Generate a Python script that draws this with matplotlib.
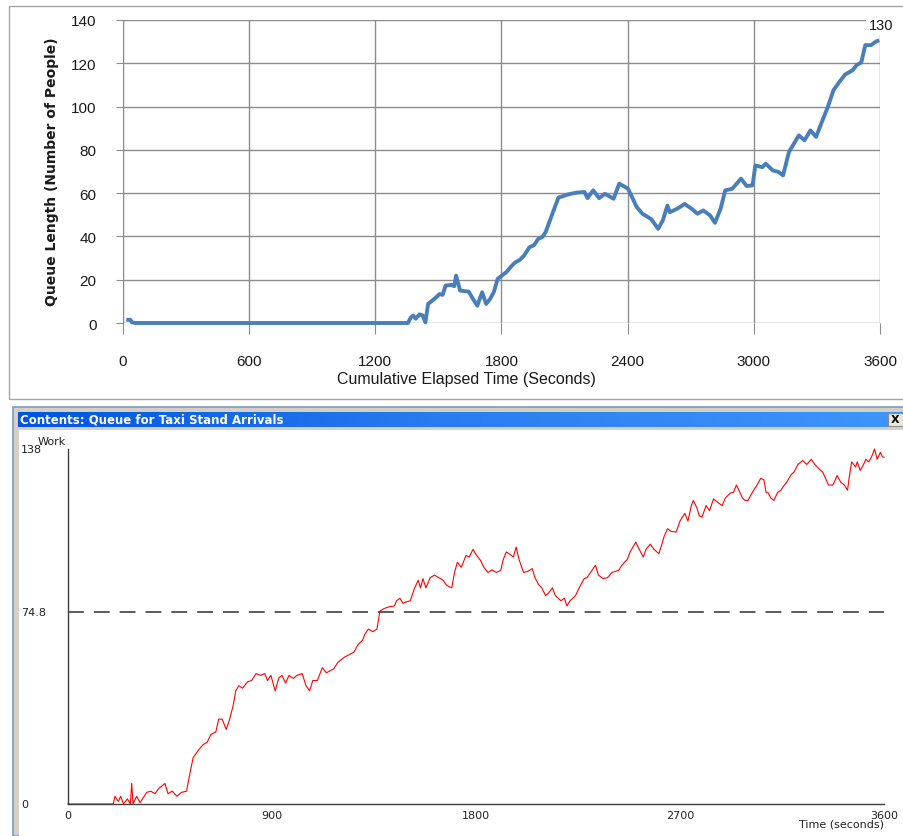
import matplotlib
matplotlib.use("Agg")
import matplotlib.pyplot as plt
import numpy as np
from matplotlib.patches import Rectangle
from matplotlib.colors import LinearSegmentedColormap
from matplotlib.transforms import blended_transform_factory

# ---- top chart data (Excel style) ----
top_t = [25, 35, 42, 60, 1355, 1369, 1380, 1392, 1410, 1425, 1438, 1451, 1479, 1506, 1520,
         1534, 1562, 1575, 1584, 1603, 1644, 1665, 1685, 1708, 1727, 1745, 1763, 1782, 1823,
         1845, 1865, 1885, 1906, 1933, 1955, 1975, 1994, 2010, 2044, 2071, 2090, 2112, 2154,
         2195, 2209, 2236, 2264, 2292, 2333, 2360, 2402, 2443, 2470, 2512, 2545, 2567, 2589,
         2600, 2636, 2671, 2704, 2732, 2760, 2792, 2815, 2842, 2864, 2897, 2939, 2966, 2994,
         3007, 3040, 3057, 3090, 3117, 3139, 3167, 3186, 3214, 3241, 3269, 3296, 3324, 3352,
         3379, 3407, 3434, 3470, 3489, 3511, 3530, 3558, 3580, 3588]
top_v = [1.5, 1.5, 0.3, 0, 0, 2.6, 3.4, 2, 4, 3.5, 0.3, 8.8, 11, 13.4, 13,
         17.3, 17.6, 17, 21.9, 15, 14.5, 11, 8, 14.2, 8.8, 11, 14.2, 20.4, 23.5,
         26, 28, 29, 31, 35, 36, 38.9, 39.7, 42, 51, 58, 58.5, 59.3, 60.2,
         60.5, 57.7, 61.3, 57.7, 59.7, 57.4, 64.4, 62, 53.6, 50.5, 48, 43.5, 47.4, 54.3,
         51.2, 52.8, 55, 52.8, 50.5, 52, 49.7, 46.3, 52.8, 61.3, 62, 66.7, 63.3, 63.6,
         72.8, 72, 73.6, 70.5, 69.8, 68.2, 79, 82.1, 86.7, 84.4, 89, 86, 93, 99.9,
         107.6, 111.4, 114.8, 116.8, 119.2, 120.4, 128.4, 128.4, 130, 130.3]
top_xticks = [0, 600, 1200, 1800, 2400, 3000, 3600]
top_yticks = [0, 20, 40, 60, 80, 100, 120, 140]
top_last_label = "130"

# ---- bottom chart data (simulation window) ----
bot_t = [0, 200, 207, 222, 232, 245, 262, 275, 281, 287, 303, 318, 347, 365, 384, 400, 428,
         441, 460, 480, 501, 523, 538, 552, 576, 595, 614, 630, 652, 665, 680, 698, 710, 728,
         740, 754, 770, 792, 810, 830, 850, 868, 880, 895, 914, 930, 944, 960, 975, 995, 1010,
         1033, 1050, 1066, 1080, 1100, 1122, 1140, 1173, 1190, 1218, 1240, 1261, 1280, 1299,
         1310, 1325, 1345, 1363, 1376, 1395, 1414, 1440, 1450, 1464, 1478, 1490, 1510, 1528,
         1545, 1555, 1566, 1579, 1598, 1617, 1635, 1655, 1670, 1693, 1705, 1718, 1735, 1756,
         1770, 1787, 1800, 1820, 1835, 1853, 1870, 1890, 1909, 1920, 1934, 1950, 1965, 1977,
         1990, 2010, 2030, 2048, 2060, 2074, 2090, 2107, 2120, 2137, 2150, 2175, 2190, 2201,
         2215, 2239, 2255, 2277, 2290, 2305, 2327, 2340, 2360, 2380, 2400, 2429, 2445, 2467,
         2480, 2505, 2520, 2538, 2550, 2569, 2585, 2607, 2620, 2630, 2645, 2660, 2683, 2700,
         2721, 2735, 2750, 2759, 2775, 2785, 2797, 2815, 2830, 2848, 2870, 2886, 2900, 2924,
         2935, 2949, 2960, 2975, 2987, 3000, 3012, 3025, 3040, 3056, 3070, 3080, 3089, 3100,
         3114, 3130, 3145, 3152, 3170, 3190, 3203, 3220, 3241, 3260, 3279, 3295, 3317, 3330,
         3345, 3355, 3375, 3393, 3410, 3425, 3439, 3445, 3457, 3475, 3482, 3495, 3510, 3520,
         3533, 3545, 3550, 3558, 3570, 3584, 3593, 3600]
bot_v = [0, 0, 3, 1, 3, 0, 2, 0, 8, 0, 3, 0.5, 4.5, 5, 4, 6, 8,
         4, 5, 3, 4.5, 5, 12, 18, 21, 23, 24, 27, 28, 33, 33, 29, 32, 38,
         44, 46, 45, 47.5, 48, 50.7, 50, 50.7, 48, 50, 44, 49, 50, 47, 50, 48.8, 50,
         50.7, 46, 44, 48, 48, 53, 51, 52.6, 55, 57, 58, 59, 62, 63.6,
         66, 68, 67, 68, 75, 76, 76.6, 77, 79, 80, 78, 78.5, 79, 83.7,
         87, 84, 87.6, 84, 88, 89, 88, 87, 85, 84, 90, 94, 92, 96.6,
         96, 99, 97, 94.7, 92, 90, 91, 90, 90.8, 95, 98, 97, 96, 99.9,
         95, 90, 90.5, 91.5, 88, 85.6, 84, 81, 82, 84, 81, 79, 80, 77,
         79, 81, 84, 87.6, 88, 90, 92.8, 89, 87.6, 88, 90, 90.8, 93, 95,
         98, 101.8, 99, 96, 99, 101, 99, 97.3, 101, 104, 107, 106, 105.7, 110,
         113, 110, 116, 118, 115, 112, 111.5, 116, 114, 118.6, 117, 116, 119, 121,
         121, 124, 122, 119, 118, 118, 120, 122, 124, 126.6, 126, 121, 121, 119,
         118, 121, 122, 123, 125, 128, 129, 132, 133.5, 132, 134, 132, 130, 129,
         126, 124, 124, 127.7, 125, 124, 122, 126, 133, 131, 133, 129.6, 132, 134,
         133, 135, 136, 138, 134, 136.7, 135, 134.8]
bot_xticks = [0, 900, 1800, 2700, 3600]
bot_ymax = 138
bot_mean = 74.8
window_title = "Contents: Queue for Taxi Stand Arrivals"

W, H = 904, 837
fig = plt.figure(figsize=(W / 100, H / 100), dpi=100)
fig.patch.set_facecolor("white")


def fx(px):
    return px / W


def fy(py):
    return 1 - py / H


sans = ["Liberation Sans", "DejaVu Sans"]

# ================= top chart =================
fig.add_artist(Rectangle((fx(9), fy(400)), fx(900), fy(7) - fy(400), transform=fig.transFigure,
                         fill=False, edgecolor="#a6a6a6", linewidth=1, zorder=-5))

ax1 = fig.add_axes([fx(123), fy(324), fx(880 - 123), fy(21) - fy(324)])
ax1.set_xlim(0, 3600)
ax1.set_ylim(0, 140)
ax1.set_xticks(top_xticks)
ax1.set_yticks(top_yticks)
ax1.grid(True, color="#8c8c8c", linewidth=1)
ax1.set_axisbelow(True)
for s in ["top", "right", "bottom"]:
    ax1.spines[s].set_visible(False)
ax1.spines["left"].set_color("#8c8c8c")
ax1.tick_params(axis="x", length=8, color="#8c8c8c", pad=14)
ax1.tick_params(axis="y", length=5, color="#8c8c8c", pad=14)
for lab in ax1.get_xticklabels() + ax1.get_yticklabels():
    lab.set_family(sans)
    lab.set_fontsize(11)
    lab.set_color("#1a1a1a")
ax1.plot(top_t, top_v, color="#4a7ebb", linewidth=2.8, solid_joinstyle="round", clip_on=False)
ax1.annotate(top_last_label, (top_t[-1], top_v[-1]), xytext=(4, 16), textcoords="offset pixels",
             ha="center", va="center", fontsize=10.5, family=sans, color="#1a1a1a",
             bbox=dict(facecolor="white", edgecolor="none", pad=2), annotation_clip=False)
fig.text(fx(466), fy(380), "Cumulative Elapsed Time (Seconds)", ha="center", va="center",
         fontsize=11.5, family=sans, color="#1a1a1a")
fig.text(fx(52), fy(172), "Queue Length (Number of People)", ha="center", va="center",
         rotation=90, fontsize=10, fontweight="bold", color="#1a1a1a")

# ================= bottom window =================
fig.add_artist(Rectangle((fx(13), 0), fx(900), fy(408), transform=fig.transFigure,
                         facecolor="#d4d0c8", edgecolor="#7f9db9", linewidth=1.2, zorder=-5))
fig.add_artist(Rectangle((fx(19), 0), fx(904 - 19), fy(431), transform=fig.transFigure,
                         facecolor="white", edgecolor="none", zorder=-4))

tb = fig.add_axes([fx(18), fy(428), fx(904 - 18), fy(413) - fy(428)])
grad = np.linspace(0, 1, 256).reshape(1, -1)
tb.imshow(grad, aspect="auto", extent=(0, 1, 0, 1),
          cmap=LinearSegmentedColormap.from_list("xp", ["#0054e3", "#2a7ff0", "#3d95ff"]))
tb.set_axis_off()
fig.text(fx(20), fy(420.5), window_title, ha="left", va="center", fontsize=8.5,
         fontweight="bold", color="white", zorder=5)
fig.add_artist(Rectangle((fx(888), fy(427)), fx(15), fy(414) - fy(427), transform=fig.transFigure,
                         facecolor="#ece9d8", edgecolor="#8a8a8a", linewidth=0.8, zorder=5))
fig.text(fx(895.5), fy(420.5), "X", ha="center", va="center", fontsize=8, fontweight="bold",
         color="black", zorder=6)

ax2 = fig.add_axes([fx(68), fy(805), fx(884 - 68), fy(450) - fy(805)])
ax2.patch.set_alpha(0)
ax2.set_xlim(0, 3600)
ax2.set_ylim(0, bot_ymax)
for s in ["top", "right"]:
    ax2.spines[s].set_visible(False)
for s in ["left", "bottom"]:
    ax2.spines[s].set_color("#404040")
    ax2.spines[s].set_linewidth(1)
ax2.set_yticks([])
ax2.set_xticks(bot_xticks)
ax2.set_xticklabels([str(v) for v in bot_xticks])
ax2.tick_params(axis="x", length=0, pad=4, labelsize=8, labelcolor="#222222")
ax2.axhline(bot_mean, xmin=0, xmax=1, color="#404040", linewidth=1.2, dashes=(9.5, 6))
ax2.plot(bot_t, bot_v, color="#ff0000", linewidth=0.8, clip_on=False)

trans = blended_transform_factory(fig.transFigure, ax2.transData)
for val, txt in [(bot_ymax, "138"), (bot_mean, "74.8"), (0, "0")]:
    ax2.text(fx(21), val, txt, transform=trans, ha="left", va="center", fontsize=8,
             color="#222222")
fig.text(fx(38), fy(442), "Work", ha="left", va="center", fontsize=8, color="#222222")
fig.text(fx(884), fy(825), "Time (seconds)", ha="right", va="center", fontsize=8,
         color="#222222")

fig.savefig("out.png", dpi=100)
